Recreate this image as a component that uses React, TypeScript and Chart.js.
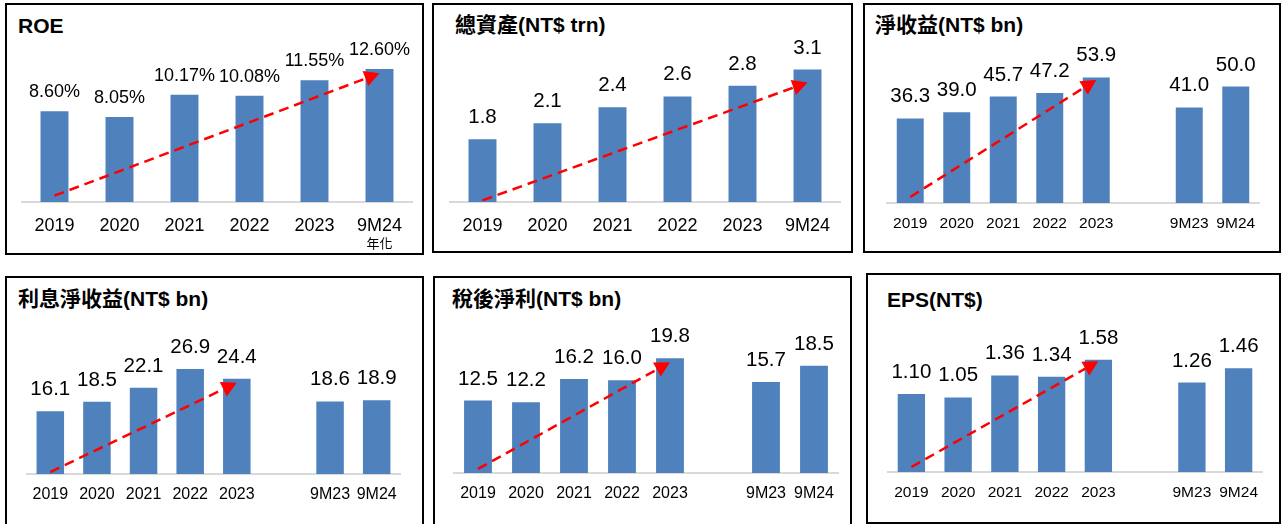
import React, { useEffect, useRef } from 'react';
import { Chart, registerables } from 'chart.js';

Chart.register(...registerables);

// ---------- data ----------
const sixCategories = ['2019', '2020', '2021', '2022', '2023', '9M24'];
const eightCategories = ['2019', '2020', '2021', '2022', '2023', '', '9M23', '9M24'];

const roeValues = [8.6, 8.05, 10.17, 10.08, 11.55, 12.6];
const totalAssetValues = [1.8, 2.1, 2.4, 2.6, 2.8, 3.1];
const netRevenueValues = [36.3, 39.0, 45.7, 47.2, 53.9, null, 41.0, 50.0];
const netInterestValues = [16.1, 18.5, 22.1, 26.9, 24.4, null, 18.6, 18.9];
const netProfitValues = [12.5, 12.2, 16.2, 16.0, 19.8, null, 15.7, 18.5];
const epsValues = [1.1, 1.05, 1.36, 1.34, 1.58, null, 1.26, 1.46];

// trend arrows in data space: [fromIndex, fromValue, toIndex, toValue]
const roeArrow = [0, 0.6, 5, 12.2];
const totalAssetArrow = [0, 0.66, 5, 2.86];
const netRevenueArrow = [0, 2.6, 4, 52.8];
const netInterestArrow = [0, 0.5, 4, 23.4];
const netProfitArrow = [0, 0.7, 4, 19.1];
const epsArrow = [0, 0.07, 4, 1.56];

const roeNote = '年化';

// ---------- style / layout ----------
const FONT = '"Liberation Sans", Arial, "Noto Sans CJK TC", sans-serif';
const BAR_COLOR = '#4F81BD';
const PADTOP = 45;
const H = 150;
const PADX = 14;

type PanelCfg = {
  title: string;
  labels: string[];
  values: (number | null)[];
  arrow: number[];
  decimals: number;
  suffix: string;
  yMin: number;
  yMax: number;
  box: { left: number; top: number; width: number; height: number };
  titleX: number;
  titleY: number;
  axisLeft: number;
  axisRight: number;
  baseline: number;
  tickSize: number;
  tickPad: number;
  axisH: number;
  labelSize: number;
  labelGap: number;
  barPct: number;
  note?: string;
};

const panels: PanelCfg[] = [
  {
    title: 'ROE', labels: sixCategories, values: roeValues, arrow: roeArrow, decimals: 2, suffix: '%',
    yMin: 0, yMax: H / 10.55,
    box: { left: 5, top: 3, width: 419, height: 252 }, titleX: 18, titleY: 26,
    axisLeft: 22, axisRight: 412, baseline: 202, tickSize: 18, tickPad: 13, axisH: 50,
    labelSize: 18, labelGap: 14, barPct: 0.43, note: roeNote,
  },
  {
    title: '總資產(NT$ trn)', labels: sixCategories, values: totalAssetValues, arrow: totalAssetArrow, decimals: 1, suffix: '',
    yMin: 0.63, yMax: 0.63 + H / 53.6,
    box: { left: 432, top: 3, width: 421, height: 250 }, titleX: 455, titleY: 25,
    axisLeft: 450, axisRight: 840, baseline: 202, tickSize: 18, tickPad: 13, axisH: 50,
    labelSize: 20.5, labelGap: 16, barPct: 0.43,
  },
  {
    title: '淨收益(NT$ bn)', labels: eightCategories, values: netRevenueValues, arrow: netRevenueArrow, decimals: 1, suffix: '',
    yMin: 0, yMax: H / 2.33,
    box: { left: 863, top: 3, width: 418, height: 250 }, titleX: 875, titleY: 25,
    axisLeft: 887, axisRight: 1259, baseline: 203, tickSize: 15.5, tickPad: 11, axisH: 30,
    labelSize: 20.5, labelGap: 16, barPct: 0.58,
  },
  {
    title: '利息淨收益(NT$ bn)', labels: eightCategories, values: netInterestValues, arrow: netInterestArrow, decimals: 1, suffix: '',
    yMin: 0, yMax: H / 3.9,
    box: { left: 5, top: 276, width: 419, height: 270 }, titleX: 18, titleY: 299,
    axisLeft: 27, axisRight: 400, baseline: 474, tickSize: 16, tickPad: 10.5, axisH: 30,
    labelSize: 20.5, labelGap: 16, barPct: 0.59,
  },
  {
    title: '稅後淨利(NT$ bn)', labels: eightCategories, values: netProfitValues, arrow: netProfitArrow, decimals: 1, suffix: '',
    yMin: 0, yMax: H / 5.8,
    box: { left: 433, top: 276, width: 419, height: 270 }, titleX: 452, titleY: 299,
    axisLeft: 454, axisRight: 838, baseline: 473, tickSize: 16, tickPad: 10.5, axisH: 30,
    labelSize: 20.5, labelGap: 16, barPct: 0.58,
  },
  {
    title: 'EPS(NT$)', labels: eightCategories, values: epsValues, arrow: epsArrow, decimals: 2, suffix: '',
    yMin: 0, yMax: H / 71,
    box: { left: 866, top: 273, width: 415, height: 251 }, titleX: 887, titleY: 300,
    axisLeft: 888, axisRight: 1262, baseline: 472, tickSize: 15.5, tickPad: 11, axisH: 30,
    labelSize: 20.5, labelGap: 16, barPct: 0.585,
  },
];

function Panel({ cfg }: { cfg: PanelCfg }) {
  const ref = useRef<HTMLCanvasElement | null>(null);
  const cw = cfg.axisRight - cfg.axisLeft + 2 * PADX;
  const ch = PADTOP + H + cfg.axisH;

  useEffect(() => {
    const canvas = ref.current;
    if (!canvas) return;
    const overlay = {
      id: 'overlay',
      afterDatasetsDraw(chart: any) {
        const ctx = chart.ctx;
        const xs = chart.scales.x;
        const ys = chart.scales.y;
        // value labels
        ctx.save();
        ctx.fillStyle = '#000';
        ctx.font = `${cfg.labelSize}px ${FONT}`;
        ctx.textAlign = 'center';
        ctx.textBaseline = 'alphabetic';
        const meta = chart.getDatasetMeta(0);
        meta.data.forEach((bar: any, i: number) => {
          const v = cfg.values[i];
          if (v === null || v === undefined) return;
          ctx.fillText(v.toFixed(cfg.decimals) + cfg.suffix, bar.x, bar.y - cfg.labelGap);
        });
        ctx.restore();
        // trend arrow
        const [fi, fv, ti, tv] = cfg.arrow;
        const x1 = xs.getPixelForValue(fi);
        const y1 = ys.getPixelForValue(fv);
        const x2 = xs.getPixelForValue(ti);
        const y2 = ys.getPixelForValue(tv);
        const ang = Math.atan2(y2 - y1, x2 - x1);
        const c = Math.cos(ang);
        const s = Math.sin(ang);
        const headLen = 15;
        const headHalf = 8;
        const bx = x2 - headLen * c;
        const by = y2 - headLen * s;
        ctx.save();
        ctx.strokeStyle = '#FF0000';
        ctx.fillStyle = '#FF0000';
        ctx.lineWidth = 2.5;
        ctx.setLineDash([10, 6]);
        ctx.beginPath();
        ctx.moveTo(x1, y1);
        ctx.lineTo(bx, by);
        ctx.stroke();
        ctx.setLineDash([]);
        ctx.beginPath();
        ctx.moveTo(x2, y2);
        ctx.lineTo(bx + headHalf * s, by - headHalf * c);
        ctx.lineTo(bx - headHalf * s, by + headHalf * c);
        ctx.closePath();
        ctx.fill();
        ctx.restore();
        // note under last tick
        if (cfg.note) {
          ctx.save();
          ctx.fillStyle = '#000';
          ctx.font = `13px "Noto Sans CJK TC", sans-serif`;
          ctx.textAlign = 'center';
          ctx.textBaseline = 'middle';
          ctx.fillText(cfg.note, xs.getPixelForValue(cfg.labels.length - 1), chart.chartArea.bottom + 41);
          ctx.restore();
        }
      },
    };
    const chart = new Chart(canvas, {
      type: 'bar',
      data: {
        labels: cfg.labels,
        datasets: [
          {
            data: cfg.values as any,
            backgroundColor: BAR_COLOR,
            borderWidth: 0,
            barPercentage: cfg.barPct,
            categoryPercentage: 1,
          },
        ],
      },
      options: {
        responsive: false,
        animation: false,
        layout: { padding: { left: PADX, right: PADX, top: PADTOP, bottom: 0 } },
        plugins: {
          legend: { display: false },
          tooltip: { enabled: false },
          title: { display: false },
        },
        scales: {
          x: {
            grid: { display: false, drawTicks: false },
            border: { display: true, color: '#D9D9D9', width: 2 },
            ticks: {
              color: '#000',
              font: { family: FONT, size: cfg.tickSize },
              padding: cfg.tickPad,
              maxRotation: 0,
              autoSkip: false,
            },
            afterFit: (scale: any) => {
              scale.height = cfg.axisH;
            },
          },
          y: { display: false, min: cfg.yMin, max: cfg.yMax },
        },
      },
      plugins: [overlay],
    });
    return () => chart.destroy();
  }, [cfg]);

  return (
    <>
      <div
        style={{
          position: 'absolute',
          left: cfg.box.left,
          top: cfg.box.top,
          width: cfg.box.width,
          height: cfg.box.height,
          border: '2px solid #000',
          boxSizing: 'border-box',
        }}
      />
      <div
        style={{
          position: 'absolute',
          left: cfg.titleX,
          top: cfg.titleY - 12,
          lineHeight: '24px',
          fontSize: 21,
          fontWeight: 'bold',
          fontFamily: FONT,
          color: '#000',
          whiteSpace: 'nowrap',
        }}
      >
        {cfg.title}
      </div>
      <canvas
        ref={ref}
        width={cw}
        height={ch}
        style={{
          position: 'absolute',
          left: cfg.axisLeft - PADX,
          top: cfg.baseline - H - PADTOP,
          width: cw,
          height: ch,
        }}
      />
    </>
  );
}

export default function App() {
  return (
    <div
      style={{
        position: 'fixed',
        left: 0,
        top: 0,
        width: 1282,
        height: 524,
        background: '#fff',
        overflow: 'hidden',
      }}
    >
      {panels.map((p, i) => (
        <Panel key={i} cfg={p} />
      ))}
    </div>
  );
}
